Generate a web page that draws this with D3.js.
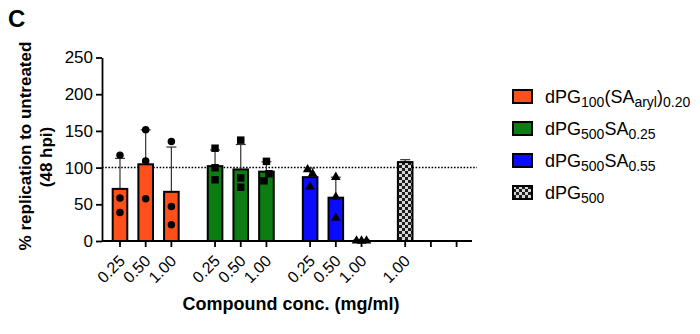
<!DOCTYPE html>
<html><head><meta charset="utf-8">
<script src="https://cdn.jsdelivr.net/npm/d3@7"></script>
<style>body{margin:0;background:#fff} svg{display:block;font-family:"Liberation Sans",Arial,Helvetica,sans-serif}</style>
</head><body><svg id="c" width="700" height="334"></svg>
<script>
// ---- data ----
const seriesNames = ["dPG100(SAaryl)0.20", "dPG500SA0.25", "dPG500SA0.55", "dPG500"];
const seriesColors = ["#ff4f1a", "#0b7d12", "#0b0bff", "checker"];
const concLabels = [["0.25","0.50","1.00"], ["0.25","0.50","1.00"], ["0.25","0.50","1.00"], ["1.00","",""]];
const barMeans = [[71, 104.5, 67], [102, 97.5, 94.5], [87, 59, 0.6], [107.5]];
const barSD = [[41.6, 47, 61], [22, 34, 13.4], [12.3, 27.9, 0.5], [3.3]];
const replicates = [
  [[117, 58.6, 38.9], [151.5, 109, 57.7], [135.6, 47.1, 22]],
  [[126.4, 99.8, 83.4], [137.4, 86, 73.2], [108.5, 82, 91.6]],
  [[97.5, 91.6, 73.8], [87, 60, 31.2], [0.3, 0.2, 0.4]],
  [[]]
];
const markerShapes = ["circle", "square", "triangle", null];
const yTicks = [0, 50, 100, 150, 200, 250];
const refLine = 100;
const legendParts = [
  [["dPG",0],["100",1],["(SA",0],["aryl",1],[")",0],["0.20",1]],
  [["dPG",0],["500",1],["SA",0],["0.25",1]],
  [["dPG",0],["500",1],["SA",0],["0.55",1]],
  [["dPG",0],["500",1]]
];
const panelLabel = "C";
const yTitle = ["% replication to untreated", "(48 hpi)"];
const xTitle = "Compound conc. (mg/ml)";

// ---- layout ----
const svg = d3.select("#c");
const GROUP_GAP = 0.7;
const slot = (g, i) => g * (3 + GROUP_GAP) + i;
const x = d3.scaleLinear().domain([-0.7, 13.7]).range([102, 472]);
const y = d3.scaleLinear().domain([0, 250]).range([241, 57.5]);
const barW = 14.6;

const defs = svg.append("defs");
const pat = defs.append("pattern").attr("id","chk").attr("patternUnits","userSpaceOnUse")
  .attr("width",6).attr("height",6);
pat.append("rect").attr("width",6).attr("height",6).attr("fill","#d6d6d6");
pat.append("rect").attr("width",3).attr("height",3).attr("fill","#1c1c1c");
pat.append("rect").attr("x",3).attr("y",3).attr("width",3).attr("height",3).attr("fill","#1c1c1c");
const fillOf = g => seriesColors[g] === "checker" ? "url(#chk)" : seriesColors[g];

// flatten bars
const bars = [];
barMeans.forEach((arr, g) => arr.forEach((m, i) => bars.push({g, i, mean: m, sd: barSD[g][i], pts: replicates[g][i] || []})));

// reference line
svg.append("line").attr("x1", x(-0.7)).attr("x2", 477).attr("y1", y(refLine)).attr("y2", y(refLine))
  .attr("stroke","#000").attr("stroke-width",1.5).attr("stroke-dasharray","1.6,1.6");

// error bars
const eb = svg.append("g").attr("stroke","#333").attr("stroke-width",1.2);
bars.forEach(b => {
  const cx = x(slot(b.g, b.i));
  eb.append("line").attr("x1",cx).attr("x2",cx).attr("y1",y(b.mean)).attr("y2",y(b.mean+b.sd));
  eb.append("line").attr("x1",cx-5).attr("x2",cx+5).attr("y1",y(b.mean+b.sd)).attr("y2",y(b.mean+b.sd));
});

// bars
svg.append("g").selectAll("rect").data(bars).join("rect")
  .attr("x", b => x(slot(b.g,b.i)) - barW/2)
  .attr("width", barW)
  .attr("y", b => y(b.mean))
  .attr("height", b => y(0) - y(b.mean))
  .attr("fill", b => fillOf(b.g))
  .attr("stroke","#000").attr("stroke-width",2);

// y axis
const ya = svg.append("g").attr("transform","translate(102,0)")
  .call(d3.axisLeft(y).tickValues(yTicks).tickSize(6).tickSizeOuter(0).tickPadding(3));
ya.select(".domain").attr("stroke-width",1.8);
ya.selectAll(".tick line").attr("stroke-width",1.8);
ya.selectAll("text").attr("font-size",17).attr("font-family","Liberation Sans, Arial, sans-serif").attr("fill","#000");

// x axis
const xg = svg.append("g");
xg.append("line").attr("x1", x(-0.7)).attr("x2", x(13.7)).attr("y1", y(0)).attr("y2", y(0))
  .attr("stroke","#000").attr("stroke-width",1.8);
concLabels.forEach((labs, g) => labs.forEach((lab, i) => {
  const cx = x(slot(g, i));
  xg.append("line").attr("x1",cx).attr("x2",cx).attr("y1",y(0)).attr("y2",y(0)+6)
    .attr("stroke","#000").attr("stroke-width",1.8);
  if (lab) xg.append("text").attr("transform",`translate(${cx+2},${y(0)+17}) rotate(-45)`)
    .attr("text-anchor","end").attr("dy","0.35em").attr("font-size",16).text(lab);
}));

// points
const symType = {circle: d3.symbolCircle, square: d3.symbolSquare, triangle: d3.symbolTriangle};
const symSize = {circle: 44, square: 56, triangle: 40};
const pg = svg.append("g");
bars.forEach(b => {
  const shape = markerShapes[b.g];
  if (!shape || !b.pts.length) return;
  const py = b.pts.map(v => y(v));
  const n = py.length, cl = d3.range(n);
  for (let a = 0; a < n; a++) for (let c = a+1; c < n; c++)
    if (Math.abs(py[a]-py[c]) < 8) { const o = cl[c]; for (let k=0;k<n;k++) if (cl[k]===o) cl[k]=cl[a]; }
  const offs = new Array(n).fill(0);
  d3.group(d3.range(n), k => cl[k]).forEach(members => {
    if (members.length > 1) members.forEach((k, j) => offs[k] = (j - (members.length-1)/2) * 5);
  });
  py.forEach((yy, k) => {
    pg.append("path").attr("d", d3.symbol().type(symType[shape]).size(symSize[shape])())
      .attr("transform", `translate(${x(slot(b.g,b.i)) + offs[k]},${yy})`).attr("fill","#000");
  });
});

// titles
svg.append("text").attr("x",8).attr("y",27).attr("font-size",24).attr("font-weight","bold").text(panelLabel);
svg.append("text").attr("transform","translate(25,146) rotate(-90)").attr("text-anchor","middle")
  .attr("dy","0.35em").attr("font-size",17).attr("font-weight","bold").text(yTitle[0]);
svg.append("text").attr("transform","translate(46,157) rotate(-90)").attr("text-anchor","middle")
  .attr("dy","0.35em").attr("font-size",17).attr("font-weight","bold").text(yTitle[1]);
svg.append("text").attr("x",291).attr("y",310).attr("text-anchor","middle")
  .attr("font-size",18).attr("font-weight","bold").text(xTitle);

// legend
const lg = svg.append("g");
legendParts.forEach((parts, r) => {
  const cy = 96.5 + r * 32;
  lg.append("rect").attr("x",513).attr("y",cy-6.5).attr("width",19).attr("height",13)
    .attr("fill", fillOf(r)).attr("stroke","#000").attr("stroke-width",2);
  const t = lg.append("text").attr("x",545).attr("y",cy+6.4).attr("font-size",18).attr("aria-label", seriesNames[r]);
  let cur = 0;
  parts.forEach(([s, sub]) => {
    const target = sub ? 4.5 : 0;
    t.append("tspan").attr("dy", target - cur).attr("font-size", sub ? 14 : 18).text(s);
    cur = target;
  });
});
</script></body></html>
